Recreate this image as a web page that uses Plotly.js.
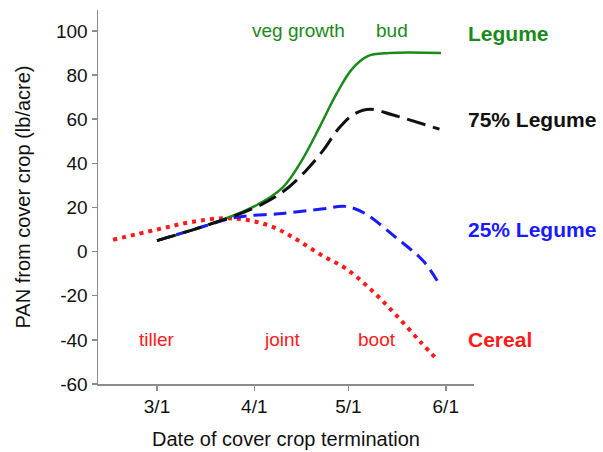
<!DOCTYPE html>
<html>
<head>
<meta charset="utf-8">
<script src="https://cdn.plot.ly/plotly-3.0.1.min.js"></script>
<style>html,body{margin:0;padding:0;background:#fff;}#chart{width:603px;height:452px;}</style>
</head>
<body>
<div id="chart"></div>
<script>
// x = days after March 1
var tickDays = [0, 31, 61, 92];
var tickLabels = ['3/1', '4/1', '5/1', '6/1'];
var yTickVals = [-60, -40, -20, 0, 20, 40, 60, 80, 100];
var yTickLabels = ['-60', '-40', '-20', '0', '20', '40', '60', '80', '100'];

var legumeDays = [0, 15, 31, 40, 46, 52, 57, 62, 67, 74, 90.5];
var legumeVals = [5, 11.5, 20.5, 29, 41, 57, 71, 82.5, 88.5, 90, 90];

var leg75Days = [0, 15, 31, 40, 47, 53, 58, 63, 68, 75, 90];
var leg75Vals = [5, 11.5, 19.8, 27, 36, 46, 56, 62.5, 64.5, 62, 55.5];

var leg25Days = [0, 15, 25, 40, 53, 60, 66, 76, 85, 90];
var leg25Vals = [5, 11.5, 15.5, 17.3, 19.4, 20.5, 17.5, 6.5, -4.5, -15];

var cerealDays = [-14, 0, 10.5, 21, 30, 38, 45, 53, 60, 68, 76, 84, 89.5];
var cerealVals = [5.4, 10, 13.3, 15.1, 14, 10.5, 5, -2.1, -7.5, -17, -28.5, -41, -49.3];

var stageLabels = ['veg growth', 'bud', 'tiller', 'joint', 'boot'];
var stageDays = [45, 75, 0, 40, 70];
var stageVals = [100, 100, -40, -40, -40];
var stageColors = ['#1a8a1a', '#1a8a1a', '#ff1a1a', '#ff1a1a', '#ff1a1a'];

var seriesLabels = ['Legume', '75% Legume', '25% Legume', 'Cereal'];
var seriesLabelVals = [99, 60, 10, -40];
var seriesColors = ['#1a8a1a', '#111111', '#1a1aff', '#ff1a1a'];

var traces = [
  {x: cerealDays, y: cerealVals, mode: 'lines', line: {color: '#ff1a1a', width: 4, dash: '4px,5px', shape: 'spline', smoothing: 1}},
  {x: legumeDays, y: legumeVals, mode: 'lines', line: {color: '#1a8a1a', width: 2.5, shape: 'spline', smoothing: 1}},
  {x: leg25Days, y: leg25Vals, mode: 'lines', line: {color: '#1a1aff', width: 3, dash: '13px,7px', shape: 'spline', smoothing: 1}},
  {x: leg75Days, y: leg75Vals, mode: 'lines', line: {color: '#111111', width: 3, dash: '19px,8px', shape: 'spline', smoothing: 1}}
];

var annotations = [];
for (var i = 0; i < stageLabels.length; i++) {
  annotations.push({x: stageDays[i], y: stageVals[i], xref: 'x', yref: 'y', text: stageLabels[i],
    showarrow: false, font: {family: 'Liberation Sans, Arial, sans-serif', size: 19, color: stageColors[i]}});
}
for (var j = 0; j < seriesLabels.length; j++) {
  annotations.push({x: 0.98, y: seriesLabelVals[j], xref: 'paper', yref: 'y', xanchor: 'left',
    text: '<b>' + seriesLabels[j] + '</b>', showarrow: false,
    font: {family: 'Liberation Sans, Arial, sans-serif', size: 21, color: seriesColors[j]}});
}

var layout = {
  width: 603, height: 452,
  margin: {l: 98, r: 129, t: 10, b: 68},
  paper_bgcolor: '#fff', plot_bgcolor: '#fff',
  showlegend: false,
  font: {family: 'Liberation Sans, Arial, sans-serif', size: 19, color: '#111'},
  xaxis: {
    range: [-18.8, 101], tickvals: tickDays, ticktext: tickLabels,
    showgrid: false, zeroline: false, showline: true, linecolor: '#8c8c8c', linewidth: 1.5,
    ticks: 'outside', ticklen: 5, tickcolor: '#8c8c8c', tickwidth: 1.5,
    tickfont: {size: 19, color: '#111'},
    title: {text: 'Date of cover crop termination', font: {size: 20, color: '#111'}, standoff: 15}
  },
  yaxis: {
    range: [-60, 109.5], tickvals: yTickVals, ticktext: yTickLabels,
    showgrid: false, zeroline: false, showline: true, linecolor: '#8c8c8c', linewidth: 1.5,
    ticks: 'outside', ticklen: 5, tickcolor: '#8c8c8c', tickwidth: 1.5,
    tickfont: {size: 19, color: '#111'},
    title: {text: 'PAN from cover crop (lb/acre)', font: {size: 20, color: '#111'}, standoff: 20}
  },
  annotations: annotations
};

Plotly.newPlot('chart', traces, layout, {displayModeBar: false, staticPlot: true});
</script>
</body>
</html>
